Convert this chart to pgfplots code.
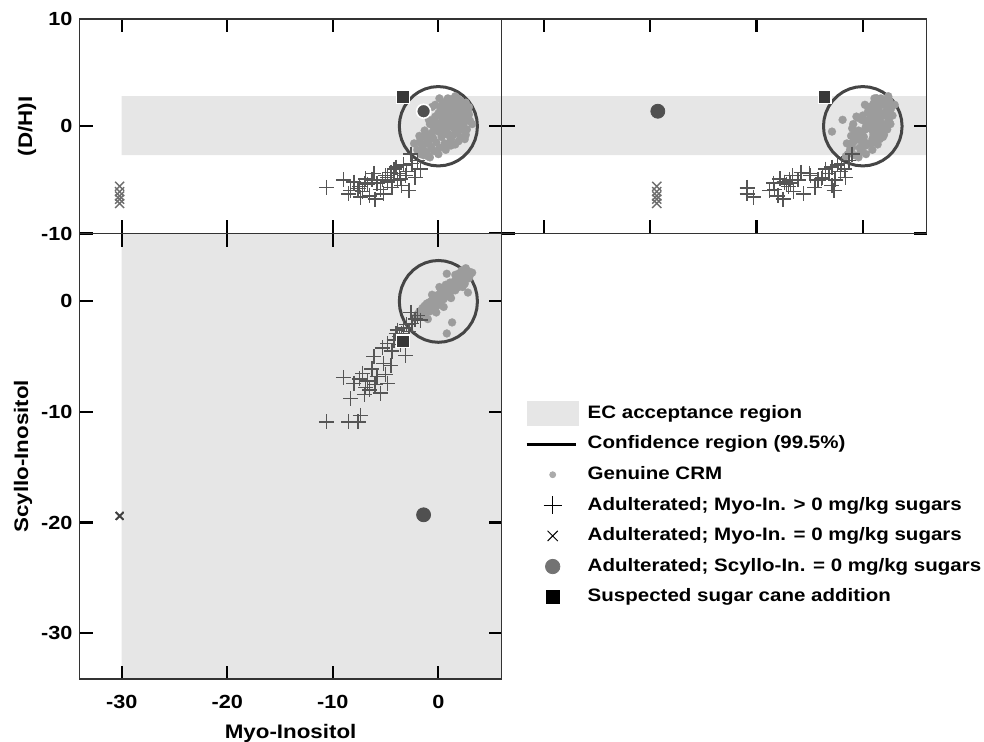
\documentclass[border=0pt]{standalone}
\usepackage{fontspec}
\setmainfont{Liberation Sans}[FakeStretch=1.14]
\usepackage{pgfplots}
\usepackage{pgfplotstable}
\pgfplotsset{compat=1.18}

\definecolor{ecgray}{HTML}{E6E6E6}
\definecolor{gen}{HTML}{9C9C9C}
\definecolor{plusc}{HTML}{555555}
\definecolor{xc}{HTML}{6E6E6E}
\definecolor{dotc}{HTML}{505050}
\definecolor{sqc}{HTML}{383838}
\definecolor{circc}{HTML}{454545}

% Genuine CRM: Myo-Inositol (m), Scyllo-Inositol (s), (D/H)I (d)
\pgfplotstableread{
m s d
-2.0 -1.2 -2.2
-1.8 -0.9 -1.5
-1.7 -1.4 -2.6
-1.5 -0.6 -1.0
-1.5 -1.0 -2.0
-1.3 -0.4 -0.4
-1.2 -1.1 -1.6
-1.1 -0.2 -2.4
-1.0 -0.7 -0.8
-0.9 -0.3 -1.3
-0.8 -0.9 0.2
-0.7 0.0 -1.9
-0.6 -0.5 -0.6
-0.5 0.2 0.5
-0.5 -0.2 -1.1
-0.4 0.4 -0.2
-0.3 -0.6 0.9
-0.2 0.1 -1.5
-0.1 0.5 0.3
0.0 0.0 -0.5
0.0 0.6 1.2
0.1 -0.3 -2.0
0.2 0.3 0.0
0.2 0.8 1.6
0.3 0.1 -1.0
0.4 0.6 0.6
0.4 1.0 2.1
0.5 0.2 -0.3
0.6 0.9 1.0
0.6 0.4 -1.6
0.7 1.2 0.3
0.8 0.5 1.8
0.8 2.5 2.4
0.8 -2.9 -0.5
0.9 1.0 -0.8
1.0 1.4 1.3
1.0 0.7 0.1
1.1 1.2 2.3
1.2 0.9 -1.2
1.3 -1.9 0.6
1.3 1.6 0.8
1.4 1.1 1.6
1.5 1.8 -0.2
1.5 1.3 2.6
1.6 1.0 0.4
1.7 1.9 1.1
1.8 1.5 -0.6
1.8 2.1 2.0
1.9 1.4 0.9
2.0 2.2 1.4
2.0 1.7 -0.2
2.1 2.0 2.4
2.2 1.6 0.6
2.3 2.4 1.8
2.4 1.9 0.2
2.5 2.3 1.2
2.6 3.0 2.0
2.6 2.0 -0.8
2.8 0.8 0.8
2.8 2.6 1.5
3.0 2.4 0.5
-1.0 -1.6 -2.8
-0.6 0.6 1.8
0.1 1.3 2.6
1.6 2.4 2.8
2.2 2.8 1.0
-0.2 -1.0 -0.2
0.5 -0.5 0.8
1.2 0.3 -1.8
0.3 0.9 -0.4
1.1 1.7 0.0
1.7 1.2 1.9
2.3 1.3 -0.3
-0.9 -0.1 0.6
0.7 1.5 1.4
1.9 2.5 0.4
1.2 1.0 2.0
1.6 1.5 1.5
2.0 1.8 2.0
2.4 2.1 1.0
2.7 2.3 -0.3
2.9 2.1 1.1
2.5 1.6 -1.2
1.9 1.3 -1.4
1.4 1.2 -0.8
0.9 0.8 -1.6
0.4 0.5 1.4
0.9 1.1 2.6
1.8 1.7 2.6
2.6 2.2 2.2
3.2 2.6 0.2
2.1 1.9 -1.0
-0.4 -0.1 -2.3
-1.4 -0.8 -2.7
-1.8 -1.1 -0.9
-2.3 -1.5 -1.6
-0.8 -0.4 -2.9
0.0 0.3 -2.6
0.7 0.9 -2.2
1.6 1.4 -1.7
2.9 2.7 1.8
1.3 1.4 0.2
0.2 0.0 1.0
-0.3 0.2 2.0
2.2 2.0 0.0
1.0 0.9 0.9
}\genuine

% Adulterated; Myo-In. > 0 mg/kg sugars
\pgfplotstableread{
m s d
-10.6 -10.9 -5.7
-8.5 -10.9 -6.3
-7.6 -10.9 -5.8
-7.4 -10.3 -6.6
-9.0 -6.9 -5.0
-8.3 -8.8 -6.0
-8.0 -7.4 -5.2
-7.5 -7.0 -5.6
-7.2 -6.5 -6.1
-6.9 -7.8 -4.9
-6.7 -7.2 -5.4
-6.5 -8.0 -6.5
-6.3 -6.1 -5.0
-6.0 -7.5 -6.8
-5.8 -6.8 -5.3
-5.5 -8.3 -5.9
-5.2 -5.6 -6.3
-5.0 -6.6 -4.6
-4.8 -7.4 -5.2
-4.5 -5.8 -4.3
-4.4 -4.5 -5.7
-4.8 -3.8 -4.8
-4.2 -3.5 -4.0
-3.9 -2.6 -5.0
-3.7 -3.2 -4.4
-3.5 -2.9 -5.5
-3.3 -2.4 -3.6
-3.1 -4.9 -4.6
-3.0 -2.1 -4.2
-2.8 -2.7 -6.0
-2.5 -2.0 -3.5
-2.2 -1.6 -4.8
-2.0 -1.3 -3.2
-1.7 -1.7 -4.0
-5.3 -4.2 -5.0
-6.1 -5.0 -4.4
-7.0 -8.4 -5.3
-3.6 -3.9 -4.9
-4.0 -2.9 -3.8
-2.6 -1.0 -2.6
}\adulterated

% Adulterated; Myo-In. = 0 mg/kg sugars
\pgfplotstableread{
m s d
-30.2 -19.4 -5.6
-30.2 -19.4 -6.1
-30.2 -19.4 -6.5
-30.2 -19.4 -6.8
-30.2 -19.4 -7.2
}\xmarks

% Adulterated; Scyllo-In. = 0 mg/kg sugars
\pgfplotstableread{
m s d
-1.4 -19.3 1.4
}\scyzero

% Suspected sugar cane addition
\pgfplotstableread{
m s d
-3.35 -3.6 2.7
}\cane

% Confidence region (99.5%), radius 3.7 around the centre
\pgfplotstableread{
x y
3.700 0.000
3.644 0.643
3.477 1.265
3.204 1.850
2.834 2.378
2.378 2.834
1.850 3.204
1.265 3.477
0.643 3.644
0.000 3.700
-0.643 3.644
-1.265 3.477
-1.850 3.204
-2.378 2.834
-2.834 2.378
-3.204 1.850
-3.477 1.265
-3.644 0.643
-3.700 0.000
-3.644 -0.643
-3.477 -1.265
-3.204 -1.850
-2.834 -2.378
-2.378 -2.834
-1.850 -3.204
-1.265 -3.477
-0.643 -3.644
0.000 -3.700
0.643 -3.644
1.265 -3.477
1.850 -3.204
2.378 -2.834
2.834 -2.378
3.204 -1.850
3.477 -1.265
3.644 -0.643
3.700 0.000
}\confcircle

\pgfplotsset{
  panel/.style={
    scale only axis, xmin=-34, xmax=6, axis on top,
    tick align=inside, xtick pos=both, ytick pos=both,
    major tick length=6.5bp,
    tick style={line width=1.1bp, black},
    axis line style={line width=0.7bp, black!80},
    tick label style={font=\fontsize{9.5bp}{11bp}\selectfont\bfseries},
    label style={font=\fontsize{9.8bp}{11bp}\selectfont\bfseries},
    xtick={-30,-20,-10,0},
  },
  genstyle/.style={only marks, mark=*, mark size=2bp, color=gen,
    mark options={draw=gen, fill=gen, line width=0.1bp}},
  legmark/.style={legend image code/.code={
    \pgfpathrectangle{\pgfpoint{0bp}{-3bp}}{\pgfpoint{26bp}{6bp}}\pgfusepath{use as bounding box}%
    \draw[##1] plot coordinates {(13bp,0bp)};}},
}

\begin{document}
\begin{tikzpicture}
\useasboundingbox (0,0) rectangle (492bp,-371bp);

% ---------- top left: Myo-Inositol vs (D/H)I ----------
\begin{axis}[panel, at={(39.75bp,-9.5bp)}, anchor=north west,
  width=211.1bp, height=107.25bp, ymin=-10, ymax=10,
  ytick={-10,0,10}, yticklabels={-10,0,10}, xticklabels={},
  ylabel={(D/H)I},
  ylabel style={at={(axis description cs:0,0.5)}, anchor=center, yshift=26.25bp}]
\addplot[draw=none, fill=ecgray] coordinates {(-30,-2.7) (10,-2.7) (10,2.8) (-30,2.8) (-30,-2.7)};
\addplot[genstyle] table[x=m, y=d] {\genuine};
\addplot[circc, line width=1.5bp, line join=round] table[x=x, y=y] {\confcircle};
\addplot[only marks, mark=+, mark size=3.75bp, plusc, line width=0.7bp] table[x=m, y=d] {\adulterated};
\addplot[only marks, mark=x, mark size=3.2bp, xc, line width=0.7bp] table[x=m, y=d] {\xmarks};
\addplot[only marks, mark=*, mark size=3.5bp, color=dotc, mark options={fill=dotc, draw=white, line width=0.8bp}] table[x=m, y=d] {\scyzero};
\addplot[only marks, mark=square*, mark size=3.2bp, color=sqc, mark options={fill=sqc, draw=white, line width=0.6bp}] table[x=m, y=d] {\cane};
\end{axis}

% ---------- top right: Scyllo-Inositol vs (D/H)I ----------
\begin{axis}[panel, at={(250.85bp,-9.5bp)}, anchor=north west,
  width=212.4bp, height=107.25bp, ymin=-10, ymax=10,
  ytick={-10,0,10}, yticklabels={}, xticklabels={}]
\addplot[draw=none, fill=ecgray] coordinates {(-40,-2.7) (10,-2.7) (10,2.8) (-40,2.8) (-40,-2.7)};
\addplot[genstyle] table[x=s, y=d] {\genuine};
\addplot[circc, line width=1.5bp, line join=round] table[x=x, y=y] {\confcircle};
\addplot[only marks, mark=+, mark size=3.75bp, plusc, line width=0.7bp] table[x=s, y=d] {\adulterated};
\addplot[only marks, mark=x, mark size=3.2bp, xc, line width=0.7bp] table[x=s, y=d] {\xmarks};
\addplot[only marks, mark=*, mark size=3.5bp, color=dotc, mark options={fill=dotc, draw=dotc}] table[x=s, y=d] {\scyzero};
\addplot[only marks, mark=square*, mark size=3.2bp, color=sqc, mark options={fill=sqc, draw=white, line width=0.6bp}] table[x=s, y=d] {\cane};
\end{axis}

% ---------- bottom left: Myo-Inositol vs Scyllo-Inositol ----------
\begin{axis}[panel, at={(39.75bp,-116.75bp)}, anchor=north west,
  width=211.1bp, height=222.75bp, ymin=-34.15, ymax=6.14,
  ytick={-30,-20,-10,0}, yticklabels={-30,-20,-10,0},
  xticklabels={-30,-20,-10,0},
  xticklabel style={yshift=-4.5bp},
  xlabel={Myo-Inositol},
  xlabel style={at={(axis description cs:0.5,0)}, anchor=base, yshift=-29.5bp},
  ylabel={Scyllo-Inositol},
  ylabel style={at={(axis description cs:0,0.5)}, anchor=center, yshift=28.25bp},
  legend cell align=left,
  legend style={at={(axis description cs:1.0592,0.615)}, anchor=north west,
    draw=none, fill=none, inner sep=0pt, outer sep=0pt,
    row sep=6.8bp, column sep=4.5bp,
    font=\fontsize{9bp}{10bp}\selectfont\bfseries,
    nodes={inner sep=0pt, text height=6.6bp, text depth=1.9bp}}]
\addplot[draw=none, fill=ecgray, forget plot] coordinates {(-30,-40) (10,-40) (10,10) (-30,10) (-30,-40)};
\addplot[genstyle, forget plot] table[x=m, y=s] {\genuine};
\addplot[circc, line width=1.5bp, line join=round, forget plot] table[x=x, y=y] {\confcircle};
\addplot[only marks, mark=+, mark size=3.75bp, plusc, line width=0.7bp, forget plot] table[x=m, y=s] {\adulterated};
\addplot[only marks, mark=x, mark size=2.7bp, black!75, line width=0.7bp, forget plot] table[x=m, y=s] {\xmarks};
\addplot[only marks, mark=*, mark size=3.5bp, color=dotc, mark options={fill=dotc, draw=dotc}, forget plot] table[x=m, y=s] {\scyzero};
\addplot[only marks, mark=square*, mark size=3.2bp, color=sqc, mark options={fill=sqc, draw=white, line width=0.8bp}, forget plot] table[x=m, y=s] {\cane};

\addlegendimage{legend image code/.code={
  \pgfpathrectangle{\pgfpoint{0bp}{-3bp}}{\pgfpoint{26bp}{6bp}}\pgfusepath{use as bounding box}%
  \begin{pgfinterruptboundingbox}
  \fill[ecgray, draw=none] (0bp,-6.25bp) rectangle (26bp,6.25bp);
  \end{pgfinterruptboundingbox}}}
\addlegendentry{EC acceptance region}
\addlegendimage{legend image code/.code={
  \pgfpathrectangle{\pgfpoint{0bp}{-3bp}}{\pgfpoint{26bp}{6bp}}\pgfusepath{use as bounding box}%
  \draw[black, line width=1.6bp] (0bp,0bp) -- (24.5bp,0bp);}}
\addlegendentry{Confidence region (99.5\%)}
\addlegendimage{only marks, mark=*, mark size=1.5bp, color=black!33, mark options={draw=black!33, fill=black!33}, legmark}
\addlegendentry{Genuine CRM}
\addlegendimage{only marks, mark=+, mark size=4.5bp, color=black, line width=0.5bp, legmark}
\addlegendentry{Adulterated; Myo-In. > 0 mg/kg sugars}
\addlegendimage{only marks, mark=x, mark size=3.6bp, color=black, line width=0.5bp, legmark}
\addlegendentry{Adulterated; Myo-In. = 0 mg/kg sugars}
\addlegendimage{only marks, mark=*, mark size=3.6bp, color=black!55, mark options={draw=black!55, fill=black!55}, legmark}
\addlegendentry{Adulterated; Scyllo-In. = 0 mg/kg sugars}
\addlegendimage{only marks, mark=square*, mark size=3.2bp, color=black, mark options={draw=black, fill=black}, legmark}
\addlegendentry{Suspected sugar cane addition}
\end{axis}
\end{tikzpicture}
\end{document}
